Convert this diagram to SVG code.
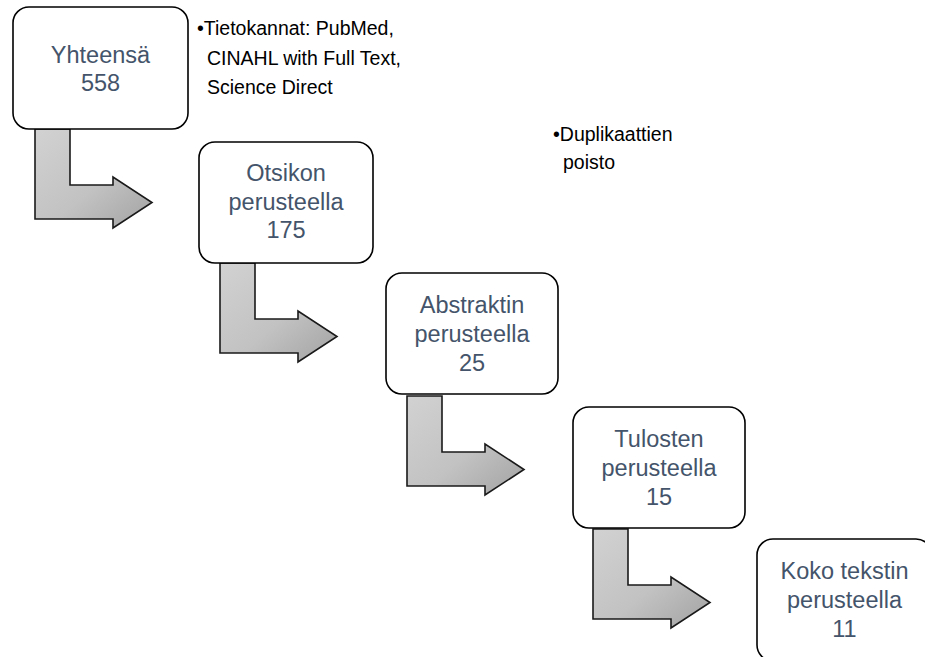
<svg xmlns="http://www.w3.org/2000/svg" xmlns:xlink="http://www.w3.org/1999/xlink" width="925" height="657" viewBox="0 0 925 657">
<style>
.box{fill:#ffffff;stroke:#000000;stroke-width:1.6}
.bt{font-family:"Liberation Sans",Arial,sans-serif;font-size:23.5px;fill:#44546A;text-anchor:middle}
.note{font-family:"Liberation Sans",Arial,sans-serif;font-size:19.5px;fill:#000000}
.arr{fill:url(#ag);stroke:#1a1a1a;stroke-width:1.6;stroke-linejoin:miter}
</style>
<defs>
<linearGradient id="ag" x1="0" y1="0" x2="1" y2="1">
<stop offset="0" stop-color="#d2d2d2"/>
<stop offset="0.55" stop-color="#c2c2c2"/>
<stop offset="1" stop-color="#a2a2a2"/>
</linearGradient>
<path id="arrow" d="M35,129 L70,129 L70,185 L113,185 L113,177 L152,202.5 L113,228 L113,219 L35,219 Z"/>
</defs>
<g id="connectors">
<use xlink:href="#arrow" href="#arrow" class="arr"/>
<use xlink:href="#arrow" href="#arrow" class="arr" transform="translate(185,134)"/>
<use xlink:href="#arrow" href="#arrow" class="arr" transform="translate(372,267)"/>
<use xlink:href="#arrow" href="#arrow" class="arr" transform="translate(558,400)"/>
</g>
<g id="node1">
<rect class="box" x="13" y="7" width="175" height="122" rx="16"/>
<text class="bt" x="100.5" y="63">Yhteensä</text>
<text class="bt" x="100.5" y="91">558</text>
</g>
<g id="node2">
<rect class="box" x="199" y="142" width="174" height="121" rx="16"/>
<text class="bt" x="286" y="181">Otsikon</text>
<text class="bt" x="286" y="209.5">perusteella</text>
<text class="bt" x="286" y="238">175</text>
</g>
<g id="node3">
<rect class="box" x="386" y="273" width="172" height="121" rx="16"/>
<text class="bt" x="472" y="312.5">Abstraktin</text>
<text class="bt" x="472" y="341.5">perusteella</text>
<text class="bt" x="472" y="370.5">25</text>
</g>
<g id="node4">
<rect class="box" x="573" y="407" width="172" height="121" rx="16"/>
<text class="bt" x="659" y="446.5">Tulosten</text>
<text class="bt" x="659" y="475.5">perusteella</text>
<text class="bt" x="659" y="504.5">15</text>
</g>
<g id="node5">
<rect class="box" x="757" y="539" width="175" height="122" rx="16"/>
<text class="bt" x="844.5" y="579">Koko tekstin</text>
<text class="bt" x="844.5" y="608">perusteella</text>
<text class="bt" x="844.5" y="637">11</text>
</g>
<g id="note1">
<text class="note" x="197" y="35">•Tietokannat: PubMed,</text>
<text class="note" x="207" y="65">CINAHL with Full Text,</text>
<text class="note" x="207" y="94">Science Direct</text>
</g>
<g id="note2">
<text class="note" x="553" y="141">•Duplikaattien</text>
<text class="note" x="563" y="169">poisto</text>
</g>
</svg>
